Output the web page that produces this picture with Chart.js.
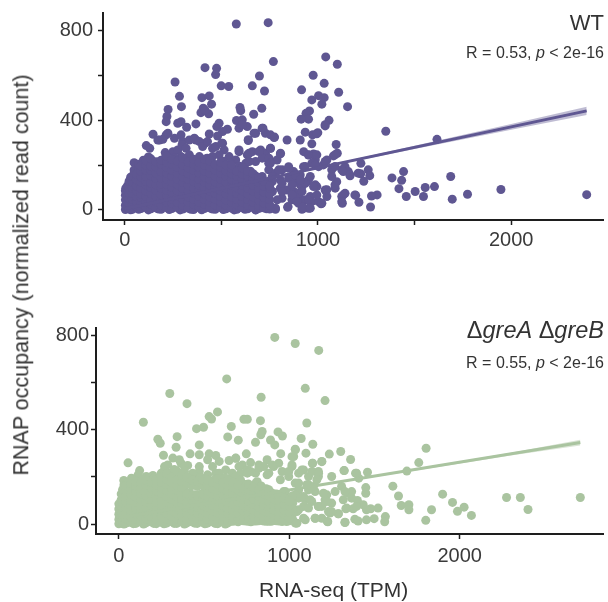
<!DOCTYPE html>
<html>
<head>
<meta charset="utf-8">
<script src="https://cdn.jsdelivr.net/npm/chart.js@4"></script>
<style>
  html, body { margin: 0; background: #fff; }
  body { width: 608px; height: 602px; position: relative; overflow: hidden; font-family: "Liberation Sans", Arial, sans-serif; color: #333; }
  canvas { position: absolute; left: 0; }
  .label { position: absolute; white-space: nowrap; line-height: 1; }
  .right { right: 4px; text-align: right; }
</style>
</head>
<body>
<canvas id="wtChart" width="608" height="270" style="top:0"></canvas>
<canvas id="mutChart" width="608" height="272" style="top:310px"></canvas>

<div class="label right" style="top:12px;font-size:22px">WT</div>
<div class="label right" style="top:45px;font-size:16px">R = 0.53, <i>p</i> &lt; 2e-16</div>
<div class="label right" style="top:319px;font-size:23.5px">Δ<i>greA</i> Δ<i>greB</i></div>
<div class="label right" style="top:355px;font-size:16px">R = 0.55, <i>p</i> &lt; 2e-16</div>
<div class="label" style="left:259px;top:579px;font-size:21px">RNA-seq (TPM)</div>
<div class="label" id="yTitle" style="left:22px;top:275px;font-size:21.5px;transform:translate(-50%,-50%) rotate(-90deg)">RNAP occupancy (normalized read count)</div>

<script>
// ---- WT panel ----
const wtRnaTicks = [0, 500, 1000, 1500, 2000];
const wtOccTicks = [0, 200, 400, 600, 800];

// separate points
const wtPoints = [
  [577,830],[742,836],[769,662],[697,598],[415,635],[475,632],[470,604],[260,571],[499,554],[538,551],
  [660,554],[723,531],[283,507],[399,501],[437,509],[449,472],[293,461],[224,448],[596,457],[600,443],
  [406,454],[394,434],[434,429],[415,446],[218,417],[214,394],[667,427],[709,454],[291,394],[274,387],
  [320,369],[368,384],[488,387],[476,372],[531,360],[506,350],[578,399],[608,402],[634,372],[591,365],
  [715,365],[677,342],[728,342],[773,323],[639,313],[146,338],[214,335],[180,312],[111,287],[257,320],
  [291,335],[300,305],[368,312],[437,339],[480,330],[416,298],[506,298],[840,312],[129,275],[171,312],
  [197,315],[209,256],[223,342],[249,260],[274,268],[296,290],[317,275],[334,312],[360,320],[386,305],
  [403,283],[428,305],[454,275],[471,283],[502,298],[514,268],[540,238],[591,260],[634,246],[660,260],
  [703,268],[728,253],[754,275],[805,250],[788,223],[745,208],[711,231],[677,216],[626,208],[574,223],
  [548,208],[488,246],[454,238],[386,238],[334,246],[291,238],[48,211],[5,97],
  [711,149],[745,179],[780,164],[814,179],[848,193],[874,171],[908,156],[728,104],[763,126],[805,134],
  [848,141],[883,126],[728,60],[763,82],[805,97],[840,89],[874,82],[908,112],[943,126],[780,3],
  [845,15],[925,7],[745,30],[711,15],[814,52],[865,45],[900,60],[960,60],[994,104],[677,0],
  [694,45],[677,89],[694,126],
  [1040,683],[1100,650],[975,601],[1032,565],[1107,525],[915,536],[968,491],[1003,510],[1032,501],[1020,472],
  [1153,461],[956,442],[938,431],[951,405],[913,405],[1057,400],[1037,375],[934,347],[972,335],[999,345],
  [1351,351],[1616,315],[1094,292],[968,295],[908,312],[1100,253],[1080,241],[977,250],[951,245],[986,223],
  [1046,223],[1222,208],[1028,201],[1260,179],[1140,193],[1071,179],[1157,171],[1221,161],[1268,153],[1443,171],
  [1383,143],[1237,128],[1433,132],[1687,149],[1419,95],[1503,82],[1555,100],[1603,104],[1457,60],[1546,60],
  [1947,91],[1774,70],[1695,48],[2391,68],[1306,67],[1277,62],[1195,65],[1123,60],[1140,74],[1126,30],
  [1212,34],[1272,13],[1016,27],[951,7],[917,3],[968,37],[1003,37],[1089,97],[1046,60],[1037,89],
  [1097,126],[986,112],[951,134],[917,104],[1071,149],[1123,179],[1166,152],[1003,193],[968,208],[925,193],
  [934,119],[900,74],[934,45],[900,30],
  [591,268],[643,253],[694,261],[754,275],[806,253],[746,231],[643,216],[754,209],[797,179],[849,186],
  [883,156],[763,149],[737,119],[814,119],[866,112],[909,134],[960,149],[934,194],[977,104],[917,82],
  [866,67],[814,82],[763,82],[711,90],[720,45],[789,45],[780,8],[843,12],[891,37],[921,12],
  [951,45],[994,67],[960,8],[1020,30],[1046,90],[1088,112],[1037,216],[986,201],[1088,194],[1131,171],
  [1166,156],[1131,67],[1123,37],[1191,67],[1208,164],[926,260],[951,246],[994,246],[1088,246],[711,365],
  [754,335],[775,325],[669,342],[639,310],[609,380],[1037,380],[994,340]
];

// the solid mass near the origin, estimated column by column
const wtCloudRna = [
  3,14,30,48,72,96,122,148,175,202,230,258,286,314,342,370,398,426,454,482,510,538,566,594,622,650,678,706,734,
  22,39,60,84,109,135,161,188,216,244,272,300,328,356,384,412,440,468,496,524,552,580,608,636,664,692,720,750
];
const wtCloudOcc = [
  [2,21,45,66,86],
  [7,33,59,84,108],
  [1,19,47,71,97,125,146],
  [11,35,63,87,115,139,164,178],
  [3,27,50,79,103,131,154,183,204],
  [14,38,67,91,119,143,172,195,222],
  [0,29,53,81,105,133,159,184,211,236],
  [17,41,69,93,121,147,170,199],
  [4,31,55,83,107,136,161,187,214],
  [18,43,72,95,124,146,176,201,226],
  [2,27,56,79,108,131,159,183,212],
  [15,39,68,91,119,145,169,197,233],
  [0,25,53,77,106,129,157,181,209],
  [12,37,66,89,117,143,167,195,223],
  [3,30,54,82,106,134,158,186,210],
  [16,40,69,92,121,144,172,196],
  [1,28,52,81,104,132,156,184,215],
  [13,38,67,90,118,142,171,194,231],
  [4,31,55,84,107,135,159,187,207],
  [17,41,70,93,121,145,173,197],
  [2,29,53,82,105,133,157,185,217],
  [14,39,68,91,119,143,171,189],
  [0,27,51,80,103,131,155,183],
  [12,37,66,89,117,141,169,195],
  [3,30,54,83,106,134,158,179],
  [16,40,69,92,120,144,173],
  [1,28,52,81,104,132,151],
  [10,35,64,87,115,131],
  [5,33,57,85,111],
  [8,30,52,75,100,128],
  [3,24,48,74,98,124,150],
  [15,40,60,85,108,135,160],
  [6,28,55,72,96,125,148,172,196],
  [12,34,60,85,112,128,150,178,200,220],
  [5,26,44,74,100,120,152,176,196,228],
  [9,36,61,88,112,140,165,192,215],
  [3,22,48,68,98,115,142,170,205,222],
  [11,35,62,88,114,138,165,191,214,240],
  [6,28,50,78,100,125,150,178,205,225],
  [10,33,60,85,112,138,163,190,218],
  [4,20,46,72,96,122,148,175,200,232],
  [8,34,58,84,110,136,162,188,214],
  [2,24,48,75,98,126,150,176,204,226],
  [10,36,60,86,112,136,164,190,212],
  [6,26,46,72,98,124,148,174,200,226],
  [9,33,59,85,111,137,163,189,219],
  [3,23,47,73,99,125,150,177,202],
  [11,35,60,86,112,138,164,190,214],
  [5,21,45,71,97,123,149,175,200],
  [8,34,58,84,110,136,162,186,201],
  [3,23,47,73,99,125,149,173],
  [10,35,60,86,111,137,160,188],
  [5,22,46,72,98,124,150,172],
  [12,34,58,84,110,136,162],
  [6,20,44,70,96,122,144],
  [9,31,56,80,106,128],
  [4,22,46,72,98,108]
];

const wtLineRna = [0, 2391];
const wtLineOcc = [5, 442];
const wtBandRna = [0, 1000, 1500, 2000, 2391];
const wtBandHigh = [8, 191, 286, 384, 460];
const wtBandLow = [2, 185, 272, 358, 424];

// ---- delta greA delta greB panel ----
const mutRnaTicks = [0, 1000, 2000];
const mutOccTicks = [0, 200, 400, 600, 800];

const mutPoints = [
  [915,792],[1035,766],[1173,737],[633,616],[1094,576],[299,554],[400,511],[835,538],[579,476],[530,456],
  [544,446],[144,432],[660,414],[734,445],[754,445],[831,439],[1103,429],[456,405],[497,411],[229,360],
  [243,343],[342,371],[639,370],[701,356],[802,347],[841,393],[833,379],[890,357],[915,336],[934,391],
  [960,374],[1070,363],[1138,339],[336,326],[472,336],[418,298],[472,294],[262,292],[748,298],[950,299],
  [1035,318],[1098,301],[54,260],[122,227],[113,209],[29,185],[1026,287],[1136,258],[530,298],[569,291],
  [521,273],[589,266],[647,270],[686,280],[317,280],[287,251],[365,258],[404,249],[472,223],[725,251],
  [773,261],[822,251],[870,273],[938,258],[1016,244],[1084,230],[715,216],[773,223],[880,216],[948,188],
  [1035,174],[1113,167],[1171,202],[1152,138],[967,138],[1016,117],[1055,145],[1132,96],[967,89],[1006,61],
  [1045,4],[1094,18],[1152,25],[1084,75],[1171,75],
  [74,195],[161,202],[200,206],[249,216],[268,244],[355,273],[385,244],[433,216],[521,209],[569,216],
  [627,230],[666,216],[705,244],[754,230],[802,216],[851,244],[909,244],[958,223],[997,202],[1055,216],
  [1113,202],[297,216],[472,244],[550,244],[589,216],[647,188],
  [1210,524],[1235,297],[1302,308],[1360,274],[1803,322],[1760,261],[1191,266],[1171,223],[1323,227],[1395,216],
  [1459,220],[1690,225],[1074,230],[1249,202],[1408,195],[1608,161],[1449,155],[1449,131],[1641,119],[1900,127],
  [1958,92],[2026,72],[1987,54],[2069,37],[2275,113],[2356,113],[2401,62],[2708,113],[1657,79],[1702,82],
  [1702,61],[1835,61],[1801,16],[1564,32],[1560,10],[1498,23],[1453,18],[1521,68],[1478,65],[1434,82],
  [1400,100],[1453,61],[1375,65],[1332,65],[1288,44],[1239,47],[1226,10],[1327,7],[1385,21],[1404,13],
  [1191,25],[1366,110],[1346,131],[1307,160],[1366,138],[1220,124],[1191,75],[1249,89],[1210,103],[1094,103],
  [1113,145],[1055,110],[1055,61],[1103,167],[1055,174],[1142,160],
  [686,279],[822,237],[900,251],[1036,315],[1016,286],[1016,251],[997,223],[1133,223],[1172,216],[1162,188],
  [1137,258],[1191,265],[1321,227],[1389,216],[686,202],[754,216],[812,180],[870,209],[977,138],[1036,124],
  [1084,117],[1123,103],[1113,68],[1045,53],[1084,25],[1036,4],[958,11],[1152,25],[1201,131],[1172,75],
  [1230,53],[1288,44],[1337,68],[1395,75],[1327,8],[1224,11],[1269,138],[1327,138],[1220,96],[1249,53],[1317,103]
];

const mutCloudRna = [
  0,14,30,55,85,115,145,175,205,235,265,295,325,355,385,415,445,475,505,535,565,595,625,655,685,715,745,775,805,835,865,895,925,955,985,1020,
  22,42,70,100,130,160,190,220,250,280,310,340,370,400,430,460,490,520,550,580,610,640,670,700,730,760,790,820,850,880,910,940,970,1000
];
const mutCloudOcc = [
  [1,20,42,64,86],
  [6,31,55,79,104,128],
  [0,18,44,67,92,115,141,166],
  [9,33,57,82,106,130,153,176],
  [2,24,49,71,97,120,144,168,188],
  [12,36,60,84,109,133,157,180],
  [0,26,50,73,98,122,147,170,192],
  [14,38,62,87,111,135,159,183],
  [3,27,51,75,100,124,148,172,195],
  [15,39,63,88,112,136,160,184],
  [1,25,49,74,98,122,146,170,198,226],
  [13,37,61,86,110,134,158,182,204],
  [3,27,52,76,100,124,148,173,196,232],
  [16,40,64,88,113,137,161,185,213],
  [0,24,48,72,97,121,143,169,192,224],
  [12,36,60,85,109,133,170,194],
  [4,28,52,76,101,125,168,188],
  [15,39,63,88,112,126,174,198],
  [1,25,49,74,98,122,146,170,193],
  [13,37,61,86,110,134,158,182],
  [3,27,52,76,100,124,148,172,190],
  [16,40,64,88,113,137,161,178],
  [0,24,48,72,97,121,145,169,196],
  [12,36,60,85,109,133,157,181],
  [14,28,52,76,101,125,149,173],
  [15,39,63,88,112,136,160,185],
  [13,25,49,74,98,122,146,168],
  [10,37,61,86,110,134,157],
  [13,27,52,76,100,124,148,176],
  [16,40,64,88,113,137,162],
  [12,24,48,72,97,121,150],
  [12,36,60,85,109,133],
  [14,28,52,80,101,128],
  [15,39,66,92,118],
  [11,30,49,74,105],
  [20,45,68,88,120],
  [10,30,50,72,96,118,146],
  [4,22,46,70,94,118,142,165],
  [8,30,54,78,100,126,150,172],
  [3,20,44,68,92,116,140,162,180],
  [9,34,56,80,104,128,152,176],
  [5,22,46,70,94,120,144,166,186],
  [10,32,56,80,104,130,154,178],
  [2,21,45,69,93,117,141,165,189],
  [8,34,58,82,106,130,154,176,200],
  [4,22,46,70,94,118,142,168,190,214],
  [11,33,57,81,105,129,153,177,200],
  [3,23,47,71,95,119,144,166,188,226],
  [9,35,59,83,107,131,155,180,208],
  [5,21,45,69,93,117,128,176,200],
  [10,32,56,80,104,122,164,186],
  [3,24,48,72,96,120,160,182],
  [8,34,58,82,106,128,166,188],
  [4,22,46,70,94,118,142,166,186],
  [10,32,56,80,104,128,152,176],
  [2,24,48,72,96,120,144,168,192],
  [9,33,57,81,105,129,153,177],
  [5,21,45,69,93,117,141,165,188],
  [12,34,58,82,106,130,154,176],
  [10,22,46,70,94,118,142,166],
  [14,32,56,80,104,128,152],
  [12,26,50,74,98,122,146,170],
  [13,35,59,83,107,131,156],
  [14,24,48,72,96,120,144],
  [13,33,57,81,105,129],
  [12,26,50,74,98,122,146],
  [15,36,58,82,106,128],
  [13,28,50,76,100,122],
  [16,40,60,84,110],
  [14,26,52,78,98]
];

const mutLineRna = [0, 2708];
const mutLineOcc = [27, 346];
const mutBandRna = [0, 1200, 1800, 2300, 2708];
const mutBandHigh = [30, 170, 242, 303, 358];
const mutBandLow = [24, 166, 234, 291, 334];

const textColor = '#3a3a3a';
const axisColor = '#1e1e1e';

// columns + separate points -> {x, y} list for the scatter dataset
function toPoints(points, cloudRna, cloudOcc) {
    const out = points.map(p => ({ x: p[0], y: p[1] }));
    cloudRna.forEach((rna, i) => cloudOcc[i].forEach(occ => out.push({ x: rna, y: occ })));
    return out;
}

function pairs(xs, ys) {
    return xs.map((x, i) => ({ x: x, y: ys[i] }));
}

function axisStyle(range, ticks, labelled, fitKey, fitSize, padding) {
    return {
        type: 'linear',
        min: range[0],
        max: range[1],
        afterBuildTicks: scale => { scale.ticks = ticks.map(v => ({ value: v })); },
        afterFit: scale => {
            scale[fitKey] = fitSize;
            // keep the plot box where it is, labels may stick out of it
            scale.paddingTop = scale.paddingBottom = scale.paddingLeft = scale.paddingRight = 0;
        },
        border: { display: true, color: axisColor, width: 2 },
        grid: { drawOnChartArea: false, drawTicks: true, tickLength: 5, tickWidth: 1.5, tickColor: axisColor },
        ticks: {
            color: textColor,
            padding: padding,
            autoSkip: false,
            maxRotation: 0,
            font: { family: "'Liberation Sans', Arial, sans-serif", size: 20 },
            callback: v => (labelled.includes(v) ? String(v) : '')
        }
    };
}

function drawPanel(id, cfg) {
    new Chart(document.getElementById(id), {
        type: 'scatter',
        data: {
            datasets: [
                {
                    data: toPoints(cfg.points, cfg.cloudRna, cfg.cloudOcc),
                    backgroundColor: cfg.color,
                    pointRadius: 4.5,
                    pointBorderWidth: 0,
                    clip: false,
                    order: 3
                },
                {
                    data: pairs(cfg.bandRna, cfg.bandHigh),
                    showLine: true,
                    pointRadius: 0,
                    borderWidth: 0,
                    fill: '+1',
                    backgroundColor: cfg.bandColor,
                    order: 2
                },
                {
                    data: pairs(cfg.bandRna, cfg.bandLow),
                    showLine: true,
                    pointRadius: 0,
                    borderWidth: 0,
                    order: 2
                },
                {
                    data: pairs(cfg.lineRna, cfg.lineOcc),
                    showLine: true,
                    pointRadius: 0,
                    borderColor: cfg.color,
                    borderWidth: 3,
                    order: 1
                }
            ]
        },
        options: {
            responsive: false,
            animation: false,
            events: [],
            layout: { padding: { top: cfg.top, right: 1, left: 0, bottom: 0 } },
            plugins: { legend: { display: false }, tooltip: { enabled: false } },
            scales: {
                x: axisStyle(cfg.xRange, cfg.xTicks, cfg.xLabelled, 'height', cfg.xHeight, cfg.xPad),
                y: axisStyle(cfg.yRange, cfg.yTicks, cfg.yLabelled, 'width', cfg.yWidth, cfg.yPad)
            }
        }
    });
}

drawPanel('wtChart', {
    points: wtPoints, cloudRna: wtCloudRna, cloudOcc: wtCloudOcc,
    lineRna: wtLineRna, lineOcc: wtLineOcc,
    bandRna: wtBandRna, bandHigh: wtBandHigh, bandLow: wtBandLow,
    color: '#5f5792', bandColor: 'rgba(95,87,146,0.4)',
    xRange: [-113, 2478], yRange: [-45, 879],
    xTicks: wtRnaTicks, xLabelled: [0, 1000, 2000],
    yTicks: wtOccTicks, yLabelled: [0, 400, 800],
    top: 13, yWidth: 103, xHeight: 50, xPad: 3, yPad: 5
});

drawPanel('mutChart', {
    points: mutPoints, cloudRna: mutCloudRna, cloudOcc: mutCloudOcc,
    lineRna: mutLineRna, lineOcc: mutLineOcc,
    bandRna: mutBandRna, bandHigh: mutBandHigh, bandLow: mutBandLow,
    color: '#aac4a0', bandColor: 'rgba(170,196,160,0.45)',
    xRange: [-134, 2844], yRange: [-42, 832],
    xTicks: mutRnaTicks, xLabelled: [0, 1000, 2000],
    yTicks: mutOccTicks, yLabelled: [0, 400, 800],
    top: 18, yWidth: 96, xHeight: 48, xPad: 5, yPad: 2
});
</script>
</body>
</html>
